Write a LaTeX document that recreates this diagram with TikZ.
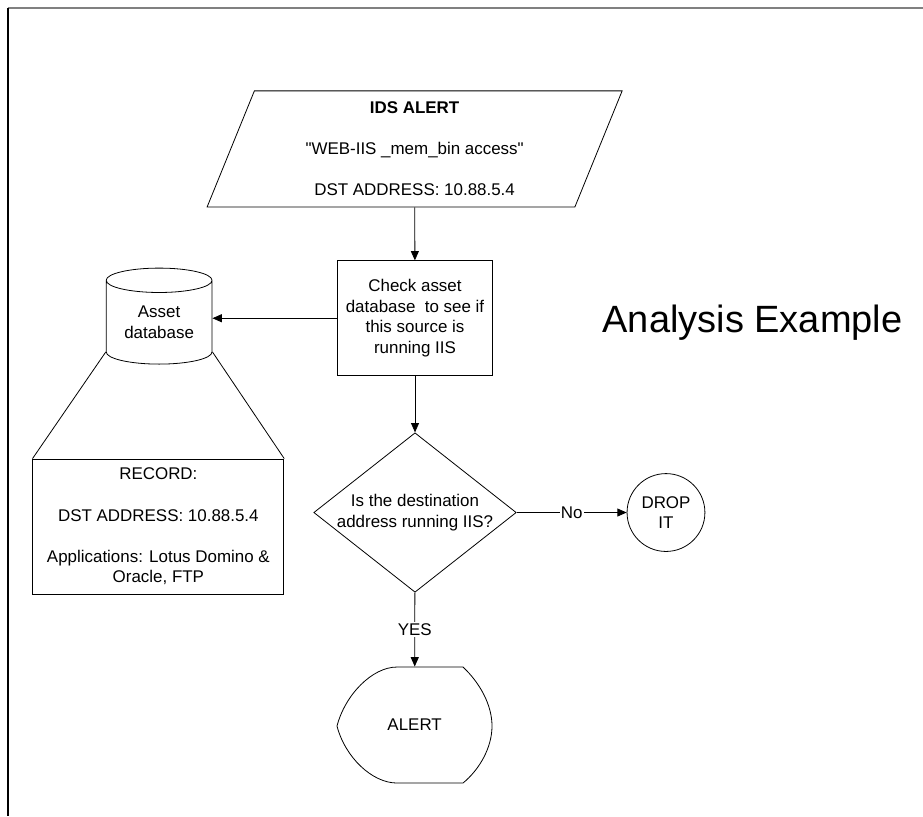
\documentclass[tikz,border=0pt]{standalone}
\usepackage{fontspec}
\setmainfont{Liberation Sans}
\usetikzlibrary{arrows.meta,positioning,shapes.geometric}

\begin{document}
\begin{tikzpicture}[
  txt/.style={font=\fontsize{12.75}{15.5}\selectfont,align=center},
  io/.style={txt,draw,trapezium,trapezium left angle=63.4,
    trapezium right angle=116.6,trapezium stretches body,
    minimum width=10.98cm,minimum height=3.07cm,inner sep=0pt},
  proc/.style={txt,draw,minimum width=4.10cm,minimum height=3.04cm,
    inner sep=0pt},
  store/.style={txt,draw,cylinder,shape border rotate=90,aspect=0.35,
    minimum width=2.80cm,minimum height=2.54cm,inner sep=0pt},
  rec/.style={txt,draw,minimum width=6.64cm,minimum height=3.57cm,
    inner sep=0pt},
  dec/.style={txt,draw,diamond,aspect=1.27,minimum width=5.34cm,
    minimum height=4.21cm,inner sep=0pt},
  term/.style={txt,draw,circle,minimum size=2.06cm,inner sep=0pt},
  lbl/.style={txt,fill=white,inner sep=1pt},
  >={Triangle[length=7pt,width=6pt]},line width=0.6pt
]
\useasboundingbox (0,0) rectangle (24.42,21.59);
%% frame
\draw[gray,line width=1.2pt] (0.21,21.38) -- (24.42,21.38);
\draw[line width=1.2pt] (0.21,21.38) -- (0.21,0);
%% title
\node[font=\fontsize{28.6}{34}\selectfont] (title) at (19.91,13.04)
  {Analysis Example};
%% main flow
\node[io] (ids) at (10.97,17.65)
  {\textbf{IDS ALERT}\\[15.5pt]\textquotedbl WEB-IIS \_mem\_bin access\textquotedbl\\[15.5pt]
   DST ADDRESS: 10.88.5.4};
\node[proc] (chk) at (10.98,13.17)
  {Check asset\\database~ to see if\\this source is\\running IIS};
\node[dec] (isiis) at (10.98,8.03)
  {Is the destination\\address running IIS?};
\node[term] (drop) at (17.62,8.03) {DROP\\IT};
\node[txt,minimum width=4.10cm,minimum height=3.07cm] (alert)
  at (10.97,2.41) {ALERT};
\draw (12.250,3.942) -- (10.504,3.942)
  .. controls (9.842,3.942) and (9.128,3.201) .. (8.916,2.381)
  .. controls (9.128,1.561) and (9.842,0.873) .. (10.504,0.873)
  -- (12.250,0.873)
  .. controls (12.700,1.243) and (13.017,1.825) .. (13.017,2.381)
  .. controls (13.017,2.937) and (12.700,3.519) .. cycle;
%% asset database
\node[store] (assetdb) at (4.21,13.06) {Asset\\database};
\node[rec] (record) at (4.19,7.66)
  {RECORD:\\[15.5pt]DST ADDRESS: 10.88.5.4\\[15.5pt]
   Applications: Lotus Domino \&\\Oracle, FTP};
\draw (assetdb.after bottom) -- (record.north west);
\draw (assetdb.before bottom) -- (record.north east);
%% arrows
\draw[->] (ids) -- (chk);
\draw[->] (chk.west) -- (chk.west -| assetdb.east);
\draw[->] (chk) -- (isiis);
\draw[->] (isiis) -- node[lbl] {No} (drop);
\draw[->] (isiis) -- node[lbl] {YES} (alert);
\end{tikzpicture}
\end{document}
